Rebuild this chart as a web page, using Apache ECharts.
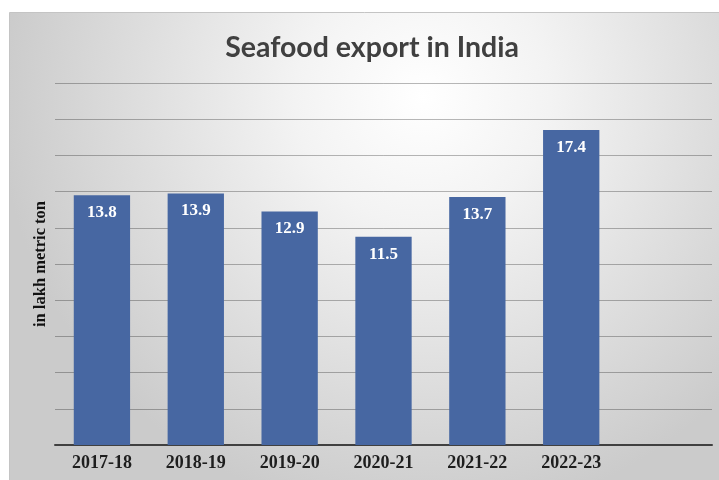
<!DOCTYPE html>
<html>
<head>
<meta charset="utf-8">
<script src="https://cdn.jsdelivr.net/npm/echarts@6/dist/echarts.min.js"></script>
<style>
  html, body { margin: 0; padding: 0; background: #ffffff; }
  #chart { width: 719px; height: 480px; }
</style>
</head>
<body>
<div id="chart"></div>
<script>
// Financial years (the last slot is an empty band on the right)
const years = ['2017-18', '2018-19', '2019-20', '2020-21', '2021-22', '2022-23', ''];
// Seafood exports, lakh metric tonnes
const exportsLakhMT = [13.8, 13.9, 12.9, 11.5, 13.7, 17.4, null];
// Value axis range and step
const yMin = 0;
const yMax = 20;
const yStep = 2;

const chart = echarts.init(document.getElementById('chart'), null, { renderer: 'canvas' });

const serif = '"Liberation Serif", "Times New Roman", serif';

chart.setOption({
  backgroundColor: '#ffffff',
  animation: false,
  graphic: [{
    type: 'rect',
    z: -100,
    silent: true,
    shape: { x: 9.5, y: 12.5, width: 712, height: 470 },
    style: {
      fill: {
        type: 'radial', x: 0.58, y: 0.18, r: 0.9,
        colorStops: [
          { offset: 0, color: '#ffffff' },
          { offset: 0.3, color: '#f3f3f3' },
          { offset: 1, color: '#cbcbcb' }
        ]
      },
      stroke: '#c4c4c4',
      lineWidth: 1
    }
  }],
  title: {
    text: 'Seafood export in India',
    left: 367,
    textAlign: 'center',
    top: 28,
    textStyle: {
      fontFamily: 'Lato, "Open Sans", sans-serif',
      fontWeight: 'bold',
      fontSize: 28.5,
      color: '#404040'
    }
  },
  grid: { left: 55, right: 7, top: 83, bottom: 35, containLabel: false },
  xAxis: {
    type: 'category',
    data: years,
    axisTick: { show: false },
    axisLine: { lineStyle: { color: '#404040', width: 2 } },
    axisLabel: {
      margin: 9,
      fontFamily: serif,
      fontWeight: 'bold',
      fontSize: 18,
      color: '#1e1e1e'
    }
  },
  yAxis: {
    type: 'value',
    min: yMin,
    max: yMax,
    interval: yStep,
    name: 'in lakh metric ton',
    nameLocation: 'middle',
    nameGap: 6,
    nameTextStyle: {
      fontFamily: serif,
      fontWeight: 'bold',
      fontSize: 16.5,
      color: '#111111'
    },
    axisLine: { show: false },
    axisTick: { show: false },
    axisLabel: { show: false },
    splitLine: { lineStyle: { color: 'rgba(0,0,0,0.28)', width: 1 } }
  },
  series: [{
    type: 'bar',
    data: exportsLakhMT,
    barWidth: '60%',
    itemStyle: { color: '#4767a2' },
    label: {
      show: true,
      position: 'insideTop',
      distance: 9,
      fontFamily: serif,
      fontWeight: 'bold',
      fontSize: 17,
      color: '#ffffff'
    }
  }]
});
</script>
</body>
</html>
